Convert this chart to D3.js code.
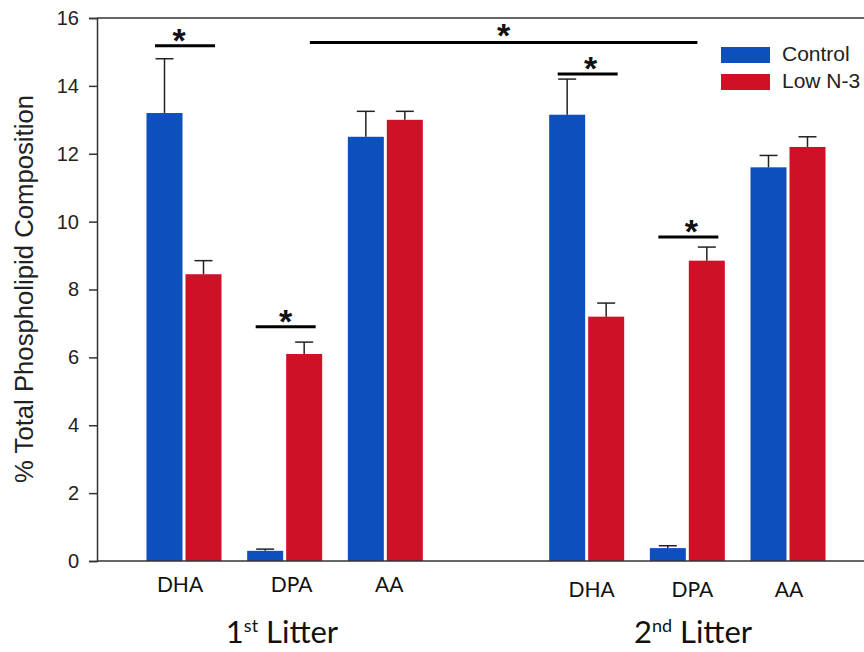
<!DOCTYPE html>
<html>
<head>
<meta charset="utf-8">
<script src="https://cdn.jsdelivr.net/npm/d3@7/dist/d3.min.js"></script>
<style>
  body { margin: 0; background: #fff; }
  svg { display: block; }
</style>
</head>
<body>
<div id="chart"></div>
<script>
// Fatty acids per litter
var litters = ['1st Litter', '2nd Litter'];
var acids = ['DHA', 'DPA', 'AA'];
var series = ['Control', 'Low N-3'];

// means, in order DHA1, DPA1, AA1, DHA2, DPA2, AA2
var control = [13.2, 0.3, 12.5, 13.15, 0.38, 11.6];
var control_err = [1.6, 0.05, 0.75, 1.05, 0.07, 0.35];
var lown3 = [8.45, 6.1, 13.0, 7.2, 8.85, 12.2];
var lown3_err = [0.4, 0.35, 0.25, 0.4, 0.4, 0.3];

// slot index of each group (slot 3 is the gap between litters)
var slots = [0, 1, 2, 4, 5, 6];
var yTicks = [0, 2, 4, 6, 8, 10, 12, 14, 16];

// significance brackets: [group, level]; long one spans slot 1.25..5.1
var sig = [[0, 15.18], [1, 6.9], [3, 14.35], [4, 9.55]];
var sigLong = [1.25, 5.1, 15.28];

var width = 864, height = 652;
var margin = { top: 18, bottom: 91, left: 97, right: 0 };
var ARIAL = 'Arial, "Liberation Sans", sans-serif';
var CAL = 'Lato, "Open Sans", sans-serif';

var svg = d3.select('#chart')
    .append('svg')
    .attr('width', width)
    .attr('height', height);

var x_scale = d3.scaleLinear()
    .domain([0, 6])
    .range([184, 788]);

var y_scale = d3.scaleLinear()
    .domain([0, 16])
    .range([height - margin.bottom, margin.top]);

var colors = { 'Control': '#0c4fbd', 'Low N-3': '#cf1128' };
var barW = 36, gap = 3;

// frame
svg.append('line')
    .attr('x1', margin.left).attr('x2', width)
    .attr('y1', margin.top).attr('y2', margin.top)
    .attr('stroke', '#333').attr('stroke-width', 1.5);

var y_axis = d3.axisLeft(y_scale).tickValues(yTicks).tickSize(8).tickPadding(10);
var gy = svg.append('g')
    .attr('transform', 'translate(' + margin.left + ',0)')
    .call(y_axis);
gy.select('.domain').attr('stroke', '#333').attr('stroke-width', 1.5);
gy.selectAll('.tick line').attr('stroke', '#333').attr('stroke-width', 1.5);
gy.selectAll('.tick text')
    .style('font-family', ARIAL)
    .style('font-size', '20px')
    .attr('fill', '#222');

// bars
var rows = slots.map(function(s, i) {
    return { slot: s, c: control[i], ce: control_err[i], l: lown3[i], le: lown3_err[i] };
});

var g = svg.append('g');

rows.forEach(function(d) {
    var cx = x_scale(d.slot);
    var parts = [
        { x: cx - gap / 2 - barW, v: d.c, e: d.ce, col: colors['Control'] },
        { x: cx + gap / 2, v: d.l, e: d.le, col: colors['Low N-3'] }
    ];
    parts.forEach(function(p) {
        g.append('rect')
            .attr('x', p.x)
            .attr('y', y_scale(p.v))
            .attr('width', barW)
            .attr('height', y_scale(0) - y_scale(p.v))
            .attr('fill', p.col);
        var mx = p.x + barW / 2;
        g.append('line')
            .attr('x1', mx).attr('x2', mx)
            .attr('y1', y_scale(p.v)).attr('y2', y_scale(p.v + p.e))
            .attr('stroke', '#222').attr('stroke-width', 1.5);
        g.append('line')
            .attr('x1', mx - 9).attr('x2', mx + 9)
            .attr('y1', y_scale(p.v + p.e)).attr('y2', y_scale(p.v + p.e))
            .attr('stroke', '#222').attr('stroke-width', 1.5);
    });
});

// x axis line
svg.append('line')
    .attr('x1', margin.left).attr('x2', width)
    .attr('y1', y_scale(0)).attr('y2', y_scale(0))
    .attr('stroke', '#333').attr('stroke-width', 1.5);

// significance marks
function star(xp, yp) {
    svg.append('text')
        .attr('x', xp).attr('y', yp)
        .attr('text-anchor', 'middle')
        .style('font-family', ARIAL)
        .style('font-size', '34px')
        .style('font-weight', 'bold')
        .attr('fill', '#111')
        .text('*');
}

var starDx = [-5, 1, 4, 4];
sig.forEach(function(s, i) {
    var cx = x_scale(slots[s[0]]);
    var yy = y_scale(s[1]);
    svg.append('line')
        .attr('x1', cx - 29).attr('x2', cx + 31)
        .attr('y1', yy).attr('y2', yy)
        .attr('stroke', '#000').attr('stroke-width', 3);
    star(cx + starDx[i], yy + 6);
});

var yl = y_scale(sigLong[2]);
svg.append('line')
    .attr('x1', x_scale(sigLong[0])).attr('x2', x_scale(sigLong[1]))
    .attr('y1', yl).attr('y2', yl)
    .attr('stroke', '#000').attr('stroke-width', 3);
star((x_scale(sigLong[0]) + x_scale(sigLong[1])) / 2, yl + 5);

// category labels
var labelOffsets = [-4, 7, 4, 5, 5, 1];
rows.forEach(function(d, i) {
    svg.append('text')
        .attr('x', x_scale(d.slot) + labelOffsets[i])
        .attr('y', i < 3 ? 592 : 597)
        .attr('text-anchor', 'middle')
        .style('font-family', CAL)
        .style('font-size', '21px')
        .attr('fill', '#111')
        .text(acids[i % 3]);
});

// litter labels
var sup = ['st', 'nd'];
litters.forEach(function(l, i) {
    var t = svg.append('text')
        .attr('x', i === 0 ? 282 : 693)
        .attr('y', 643)
        .attr('text-anchor', 'middle')
        .style('font-family', CAL)
        .style('font-size', '31px')
        .attr('fill', '#111');
    t.append('tspan').text(l.charAt(0));
    t.append('tspan').attr('dy', -11).style('font-size', '18px').text(sup[i]);
    t.append('tspan').attr('dy', 11).text(' ' + l.split(' ')[1]);
});

// y axis title
svg.append('text')
    .attr('transform', 'translate(33,' + 289 + ') rotate(-90)')
    .attr('text-anchor', 'middle')
    .style('font-family', ARIAL)
    .style('font-size', '25.7px')
    .attr('fill', '#222')
    .text('% Total Phospholipid Composition');

// legend
var legend = svg.append('g').attr('transform', 'translate(721,47)');
series.forEach(function(s, i) {
    legend.append('rect')
        .attr('x', 0).attr('y', i * 27)
        .attr('width', 49).attr('height', 16)
        .attr('fill', colors[s]);
    legend.append('text')
        .attr('x', 61).attr('y', i * 27 + 14)
        .style('font-family', ARIAL)
        .style('font-size', '21px')
        .attr('fill', '#222')
        .text(s);
});
</script>
</body>
</html>
